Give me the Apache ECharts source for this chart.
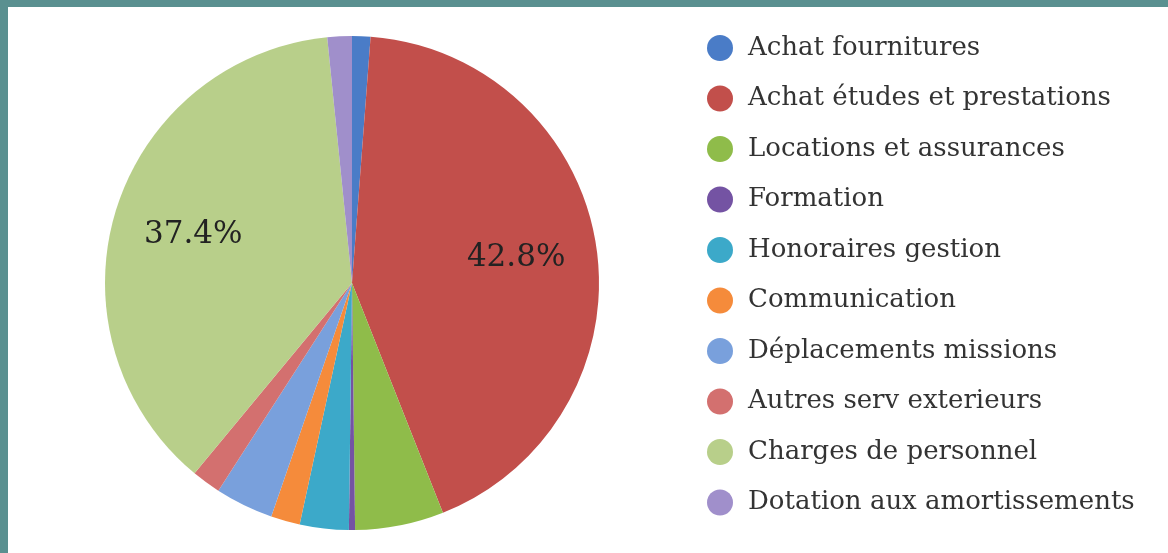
<!DOCTYPE html>
<html>
<head>
<meta charset="utf-8">
<script src="https://cdn.jsdelivr.net/npm/echarts@6/dist/echarts.min.js"></script>
<style>
html,body{margin:0;padding:0;width:1168px;height:553px;background:#5a9090;overflow:hidden;}
#chart{position:absolute;left:8px;top:7px;width:1160px;height:546px;background:#ffffff;}
</style>
</head>
<body>
<div id="chart"></div>
<script>
const categories = ["Achat fournitures","Achat études et prestations","Locations et assurances","Formation","Honoraires gestion","Communication","Déplacements missions","Autres serv exterieurs","Charges de personnel","Dotation aux amortissements"];
const values = [1.2, 42.8, 5.8, 0.4, 3.2, 1.9, 3.8, 1.9, 37.4, 1.6];
const colors = ["#4a7cc7","#c24f4b","#8fbc4a","#7453a3","#3ca9c9","#f58b3b","#79a0dc","#d3706f","#b8cf8a","#a08fcb"];

const FONT = '"DejaVu Serif", serif';
const chart = echarts.init(document.getElementById('chart'));
const mainData = categories.map((c,i)=>({name:c, value:values[i], itemStyle:{color:colors[i]}}));
const labelData = categories.map((c,i)=>({name:c, value:values[i], itemStyle:{color:'rgba(0,0,0,0)'}}));
chart.setOption({
  animation:false,
  legend:{
    orient:'vertical', left:694, top:23,
    icon:'circle', itemWidth:26, itemHeight:26, itemGap:24.5,
    textStyle:{fontFamily:FONT, fontSize:26, color:'#333', padding:[0,0,0,10]},
    data: categories.map((c,i)=>({name:c, itemStyle:{color:colors[i]}}))
  },
  series:[
    {
      type:'pie', center:[344,276], radius:[0,247], startAngle:90, clockwise:true,
      label:{show:false}, labelLine:{show:false}, emphasis:{disabled:true},
      itemStyle:{borderWidth:0}, data:mainData
    },
    {
      type:'pie', center:[344,276], radius:[79,247], startAngle:90, clockwise:true, silent:true,
      emphasis:{disabled:true}, itemStyle:{borderWidth:0},
      label:{show:true, position:'inside', fontFamily:FONT, fontSize:31, color:'#222',
        formatter:p=> p.percent>10 ? p.percent.toFixed(1)+'%' : ''},
      labelLine:{show:false}, data:labelData
    }
  ]
});
</script>
</body>
</html>
